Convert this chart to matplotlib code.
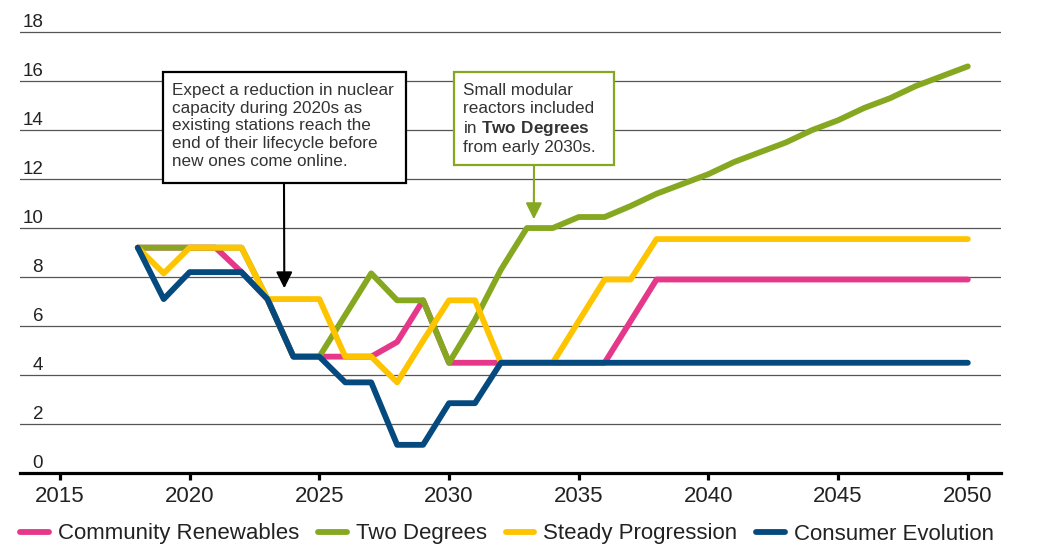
import matplotlib
matplotlib.use('Agg')
import matplotlib.pyplot as plt
from matplotlib.patches import Rectangle

plt.rcParams['font.family'] = ['Liberation Sans', 'DejaVu Sans']
plt.rcParams['mathtext.fontset'] = 'custom'
plt.rcParams['mathtext.rm'] = 'Liberation Sans'
plt.rcParams['mathtext.bf'] = 'Liberation Sans:bold'

# data
years = list(range(2018, 2051))
community = [9.2, 9.2, 9.2, 9.2, 8.2, 7.1, 4.75, 4.75, 4.75, 4.75, 5.35, 7.05,
             4.5, 4.5, 4.5, 4.5, 4.5, 4.5, 4.5, 6.2, 7.9] + [7.9] * 12
two_degrees = [9.2, 9.2, 9.2, 9.2, 9.2, 7.1, 4.75, 4.75, 6.45, 8.15, 7.05, 7.05,
               4.5, 6.25, 8.3, 10.0, 10.0, 10.45, 10.45, 10.9, 11.4, 11.8, 12.2,
               12.7, 13.1, 13.5, 14.0, 14.4, 14.9, 15.3, 15.8, 16.2, 16.6]
steady = [9.2, 8.15, 9.2, 9.2, 9.2, 7.1, 7.1, 7.1, 4.75, 4.75, 3.7, 5.4,
          7.05, 7.05, 4.5, 4.5, 4.5, 6.2, 7.9, 7.9, 9.55] + [9.55] * 12
consumer = [9.2, 7.1, 8.2, 8.2, 8.2, 7.1, 4.75, 4.75, 3.7, 3.7, 1.15, 1.15,
            2.85, 2.85, 4.5] + [4.5] * 18

series_names = ['Community Renewables', 'Two Degrees', 'Steady Progression', 'Consumer Evolution']
colors = ['#E5388A', '#85A820', '#FFC400', '#054A7E']
xticks = list(range(2015, 2051, 5))
yticks = list(range(0, 19, 2))

note1 = ('Expect a reduction in nuclear\ncapacity during 2020s as\n'
         'existing stations reach the\nend of their lifecycle before\n'
         'new ones come online.')
note2 = 'Small modular\nreactors included\nin $\\mathbf{Two\\ Degrees}$\nfrom early 2030s.'

W, H = 1060, 558
fig = plt.figure(figsize=(W / 100, H / 100), dpi=100)
ax = fig.add_axes([20 / W, 1 - 473 / H, (1001 - 20) / W, 473 / H])


def fpos(px, py):
    # pixel position -> figure fraction
    return (px / W, 1 - py / H)


for name, vals, c in zip(series_names, [community, two_degrees, steady, consumer], colors):
    ax.plot(years, vals, color=c, lw=4.2, solid_capstyle='round', label=name, zorder=3)

ax.set_xlim(2013.46, 2051.28)
ax.set_ylim(0, 19.31)
ax.set_yticks(yticks)
ax.set_xticks(xticks)
ax.grid(axis='y', color='#555555', lw=0.9)
ax.set_axisbelow(True)
for s in ['top', 'right', 'left']:
    ax.spines[s].set_visible(False)
ax.spines['bottom'].set_linewidth(2.3)
ax.spines['bottom'].set_color('black')
ax.spines['bottom'].set_zorder(4)
ax.tick_params(axis='y', left=False, labelleft=False)
ax.tick_params(axis='x', direction='out', length=5, width=2.3, color='black',
               labelsize=16, labelcolor='#222222', pad=4)

for v in yticks:
    ax.annotate(str(v), xy=(0, v), xycoords=ax.get_yaxis_transform(),
                xytext=(23, 5), textcoords='offset pixels', ha='right', va='baseline',
                fontsize=13.5, color='#222222', annotation_clip=False)

# note boxes
fig.add_artist(Rectangle(fpos(163, 183), 243 / W, 111 / H, transform=fig.transFigure,
                         facecolor='white', edgecolor='black', lw=1.6, zorder=5))
fig.text(172 / W, 1 - 83 / H, note1, ha='left', va='top', fontsize=12.3,
         color='#333333', linespacing=1.22, zorder=6)
ax.annotate('', xy=(2023.65, 7.54), xytext=fpos(284, 184), textcoords='figure fraction',
            arrowprops=dict(arrowstyle='-|>,head_length=0.7,head_width=0.35', color='black',
                            lw=1.5, shrinkA=0, shrinkB=0, mutation_scale=14), zorder=4)

fig.add_artist(Rectangle(fpos(454, 165), 160 / W, 93 / H, transform=fig.transFigure,
                         facecolor='white', edgecolor='#85A820', lw=1.6, zorder=5))
fig.text(463 / W, 1 - 83 / H, note2, ha='left', va='top', fontsize=12.3,
         color='#333333', linespacing=1.22, zorder=6)
ax.annotate('', xy=(2033.27, 10.36), xytext=fpos(534, 166), textcoords='figure fraction',
            arrowprops=dict(arrowstyle='-|>,head_length=0.7,head_width=0.35', color='#85A820',
                            lw=1.5, shrinkA=0, shrinkB=0, mutation_scale=14), zorder=4)

fig.legend(loc='center left', bbox_to_anchor=fpos(20, 534), ncol=4, frameon=False,
           fontsize=16, handlelength=1.3, handletextpad=0.4, columnspacing=0.85,
           borderpad=0, borderaxespad=0, labelcolor='#222222')

fig.savefig('out.png', dpi=100, facecolor='white')
